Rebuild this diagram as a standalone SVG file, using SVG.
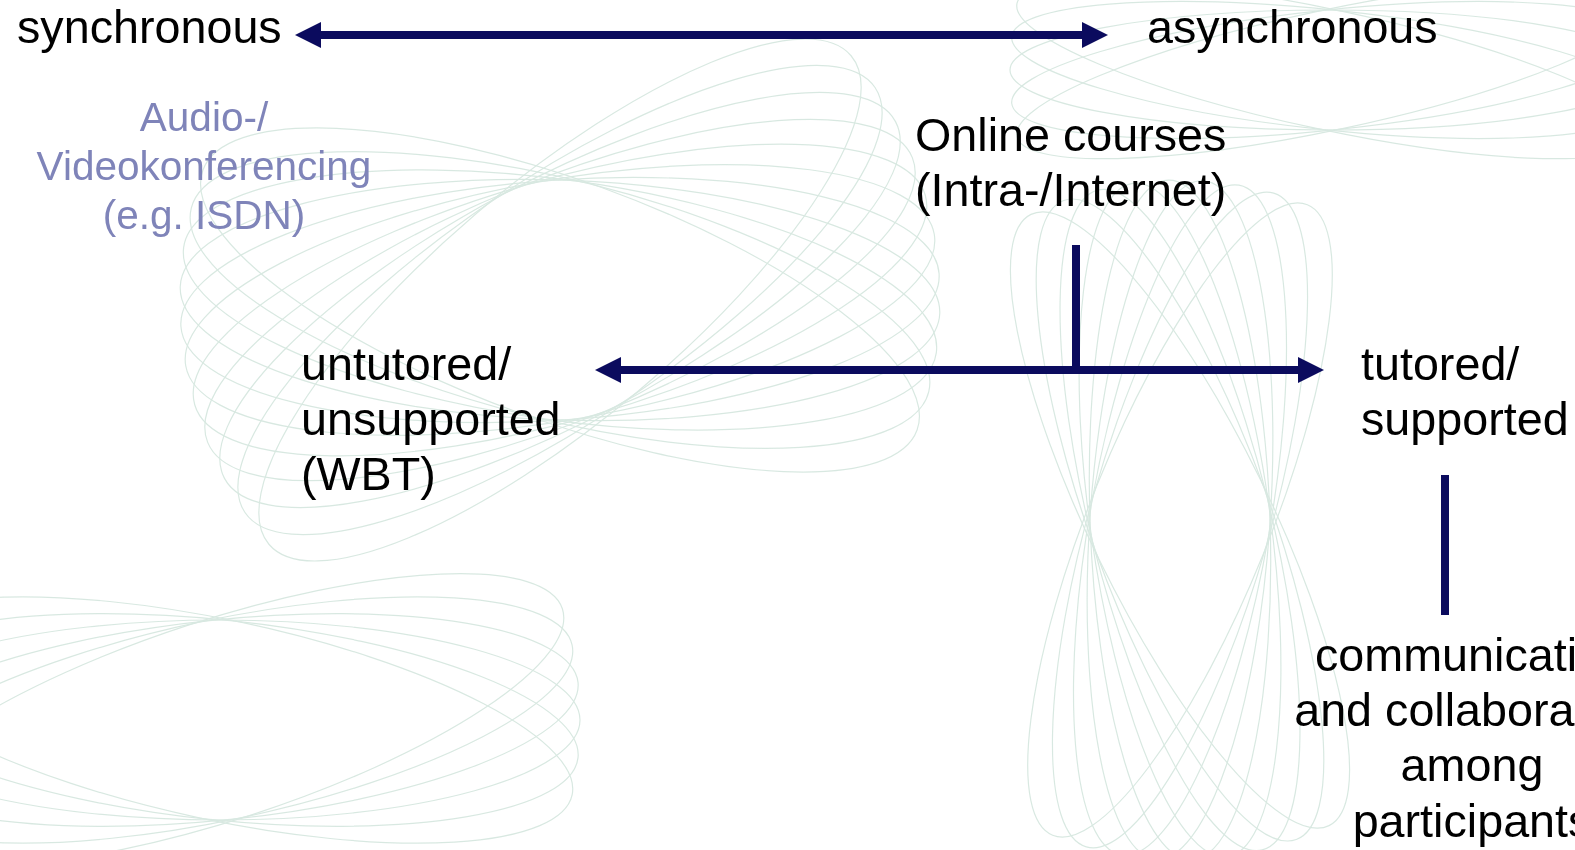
<svg xmlns="http://www.w3.org/2000/svg" width="1575" height="850" viewBox="0 0 1575 850">
<style>
  .t { font-family: "Liberation Sans", Arial, sans-serif; font-size: 46.7px; fill: #000; }
  .s { font-family: "Liberation Sans", Arial, sans-serif; font-size: 40.5px; fill: #7f84b9; text-anchor: middle; }
  .c { text-anchor: middle; }
  .ln { stroke: #0b0b5e; stroke-width: 8; fill: none; }
  .bg ellipse { fill: none; stroke: #cfe3da; stroke-width: 1.2; }
</style>
<defs>
  <marker id="ah" viewBox="0 0 26 26" refX="26" refY="13" markerWidth="26" markerHeight="26" markerUnits="userSpaceOnUse" orient="auto-start-reverse">
    <path d="M0,0 L26,13 L0,26 Z" fill="#0b0b5e"/>
  </marker>
</defs>
<rect width="1575" height="850" fill="#ffffff"/>
<g id="background" class="bg" opacity="0.8">
  <g transform="translate(560,300)">
    <ellipse rx="380" ry="120" transform="rotate(-40)"/>
    <ellipse rx="380" ry="120" transform="rotate(-34)"/>
    <ellipse rx="380" ry="120" transform="rotate(-28)"/>
    <ellipse rx="380" ry="120" transform="rotate(-22)"/>
    <ellipse rx="380" ry="120" transform="rotate(-16)"/>
    <ellipse rx="380" ry="120" transform="rotate(-10)"/>
    <ellipse rx="380" ry="120" transform="rotate(-4)"/>
    <ellipse rx="380" ry="120" transform="rotate(2)"/>
    <ellipse rx="380" ry="120" transform="rotate(8)"/>
    <ellipse rx="380" ry="120" transform="rotate(14)"/>
    <ellipse rx="380" ry="120" transform="rotate(20)"/>
  </g>
  <g transform="translate(1180,520)">
    <ellipse rx="340" ry="90" transform="rotate(64)"/>
    <ellipse rx="340" ry="90" transform="rotate(70)"/>
    <ellipse rx="340" ry="90" transform="rotate(76)"/>
    <ellipse rx="340" ry="90" transform="rotate(82)"/>
    <ellipse rx="340" ry="90" transform="rotate(88)"/>
    <ellipse rx="340" ry="90" transform="rotate(94)"/>
    <ellipse rx="340" ry="90" transform="rotate(100)"/>
    <ellipse rx="340" ry="90" transform="rotate(106)"/>
    <ellipse rx="340" ry="90" transform="rotate(112)"/>
  </g>
  <g transform="translate(220,720)">
    <ellipse rx="360" ry="100" transform="rotate(-18)"/>
    <ellipse rx="360" ry="100" transform="rotate(-12)"/>
    <ellipse rx="360" ry="100" transform="rotate(-6)"/>
    <ellipse rx="360" ry="100" transform="rotate(0)"/>
    <ellipse rx="360" ry="100" transform="rotate(6)"/>
    <ellipse rx="360" ry="100" transform="rotate(12)"/>
  </g>
  <g transform="translate(1330,70)">
    <ellipse rx="320" ry="60" transform="rotate(-12)"/>
    <ellipse rx="320" ry="60" transform="rotate(-6)"/>
    <ellipse rx="320" ry="60" transform="rotate(0)"/>
    <ellipse rx="320" ry="60" transform="rotate(6)"/>
    <ellipse rx="320" ry="60" transform="rotate(12)"/>
  </g>
</g>
<g id="connectors">
  <line class="ln" x1="320" y1="35" x2="1082" y2="35"/>
  <path d="M295,35 L321,22 L321,48 Z" fill="#0b0b5e"/>
  <path d="M1108,35 L1082,22 L1082,48 Z" fill="#0b0b5e"/>
  <line class="ln" x1="620" y1="370" x2="1300" y2="370"/>
  <path d="M595,370 L621,357 L621,383 Z" fill="#0b0b5e"/>
  <path d="M1324,370 L1298,357 L1298,383 Z" fill="#0b0b5e"/>
  <line class="ln" x1="1076" y1="245" x2="1076" y2="370"/>
  <line class="ln" x1="1445" y1="475" x2="1445" y2="615"/>
</g>
<g id="synchronous"><text class="t" x="17" y="43">synchronous</text></g>
<g id="asynchronous"><text class="t" x="1147" y="43">asynchronous</text></g>
<g id="audio">
  <text class="s" x="204" y="131">Audio-/</text>
  <text class="s" x="204" y="180">Videokonferencing</text>
  <text class="s" x="204" y="229">(e.g. ISDN)</text>
</g>
<g id="online">
  <text class="t" x="915" y="151">Online courses</text>
  <text class="t" x="915" y="206">(Intra-/Internet)</text>
</g>
<g id="untutored">
  <text class="t" x="301" y="380">untutored/</text>
  <text class="t" x="301" y="435">unsupported</text>
  <text class="t" x="301" y="490">(WBT)</text>
</g>
<g id="tutored">
  <text class="t" x="1361" y="380">tutored/</text>
  <text class="t" x="1361" y="435">supported</text>
</g>
<g id="communication">
  <text class="t c" x="1472" y="671">communication</text>
  <text class="t c" x="1472" y="726">and collaboration</text>
  <text class="t c" x="1472" y="781">among</text>
  <text class="t c" x="1472" y="837">participants</text>
</g>
</svg>
